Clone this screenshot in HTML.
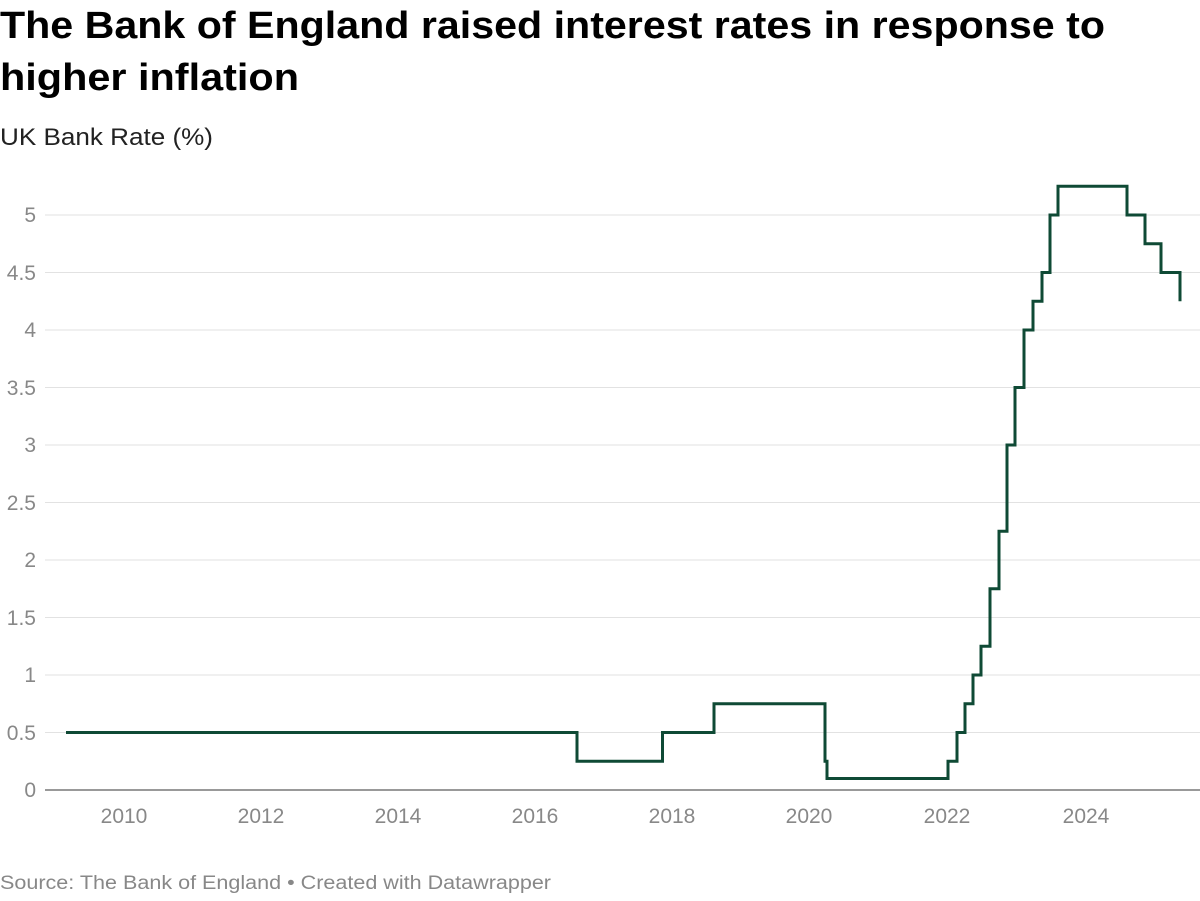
<!DOCTYPE html>
<html><head><meta charset="utf-8"><style>
body{margin:0;background:#fff;width:1200px;height:896px;overflow:hidden;font-family:"Liberation Sans",Arial,sans-serif}
</style></head><body>
<svg width="1200" height="896" xmlns="http://www.w3.org/2000/svg" font-family="Liberation Sans, Arial, sans-serif">
<text x="0" y="38" font-size="38" font-weight="bold" fill="#000" textLength="1105" lengthAdjust="spacingAndGlyphs">The Bank of England raised interest rates in response to</text>
<text x="0" y="90" font-size="38" font-weight="bold" fill="#000" textLength="299" lengthAdjust="spacingAndGlyphs">higher inflation</text>
<text x="0" y="145" font-size="24" fill="#222" textLength="213" lengthAdjust="spacingAndGlyphs">UK Bank Rate (%)</text>
<g stroke="#e2e2e2" stroke-width="1">
<line x1="45" x2="1200" y1="215" y2="215"/><line x1="45" x2="1200" y1="272.5" y2="272.5"/>
<line x1="45" x2="1200" y1="330" y2="330"/><line x1="45" x2="1200" y1="387.5" y2="387.5"/>
<line x1="45" x2="1200" y1="445" y2="445"/><line x1="45" x2="1200" y1="502.5" y2="502.5"/>
<line x1="45" x2="1200" y1="560" y2="560"/><line x1="45" x2="1200" y1="617.5" y2="617.5"/>
<line x1="45" x2="1200" y1="675" y2="675"/><line x1="45" x2="1200" y1="732.5" y2="732.5"/>
</g>
<line x1="45" x2="1200" y1="790" y2="790" stroke="#333" stroke-width="1"/>
<g font-size="21" fill="#888" text-anchor="end">
<text x="36" y="222">5</text><text x="36" y="280">4.5</text><text x="36" y="337">4</text>
<text x="36" y="395">3.5</text><text x="36" y="452">3</text><text x="36" y="510">2.5</text>
<text x="36" y="567">2</text><text x="36" y="625">1.5</text><text x="36" y="682">1</text>
<text x="36" y="740">0.5</text><text x="36" y="797">0</text>
</g>
<g font-size="21" fill="#888" text-anchor="middle">
<text x="124" y="823">2010</text><text x="261" y="823">2012</text><text x="398" y="823">2014</text>
<text x="535" y="823">2016</text><text x="672" y="823">2018</text><text x="809" y="823">2020</text>
<text x="947" y="823">2022</text><text x="1086" y="823">2024</text>
</g>
<path d="M66,732.5 H577 V761.25 H662.5 V732.5 H714 V703.75 H825 V761.25 H827 V778.5 H948 V761.25 H957 V732.5 H965 V703.75 H973 V675 H981 V646.25 H990 V588.75 H999 V531.25 H1007 V445 H1015 V387.5 H1024 V330 H1033 V301.25 H1042 V272.5 H1050 V215 H1058 V186.25 H1127 V215 H1145 V243.75 H1161 V272.5 H1180 V301.25" fill="none" stroke="#0f4a35" stroke-width="3" stroke-linejoin="miter"/>
<text x="0" y="889" font-size="19" fill="#888" textLength="551" lengthAdjust="spacingAndGlyphs">Source: The Bank of England • Created with Datawrapper</text>
</svg>
</body></html>
